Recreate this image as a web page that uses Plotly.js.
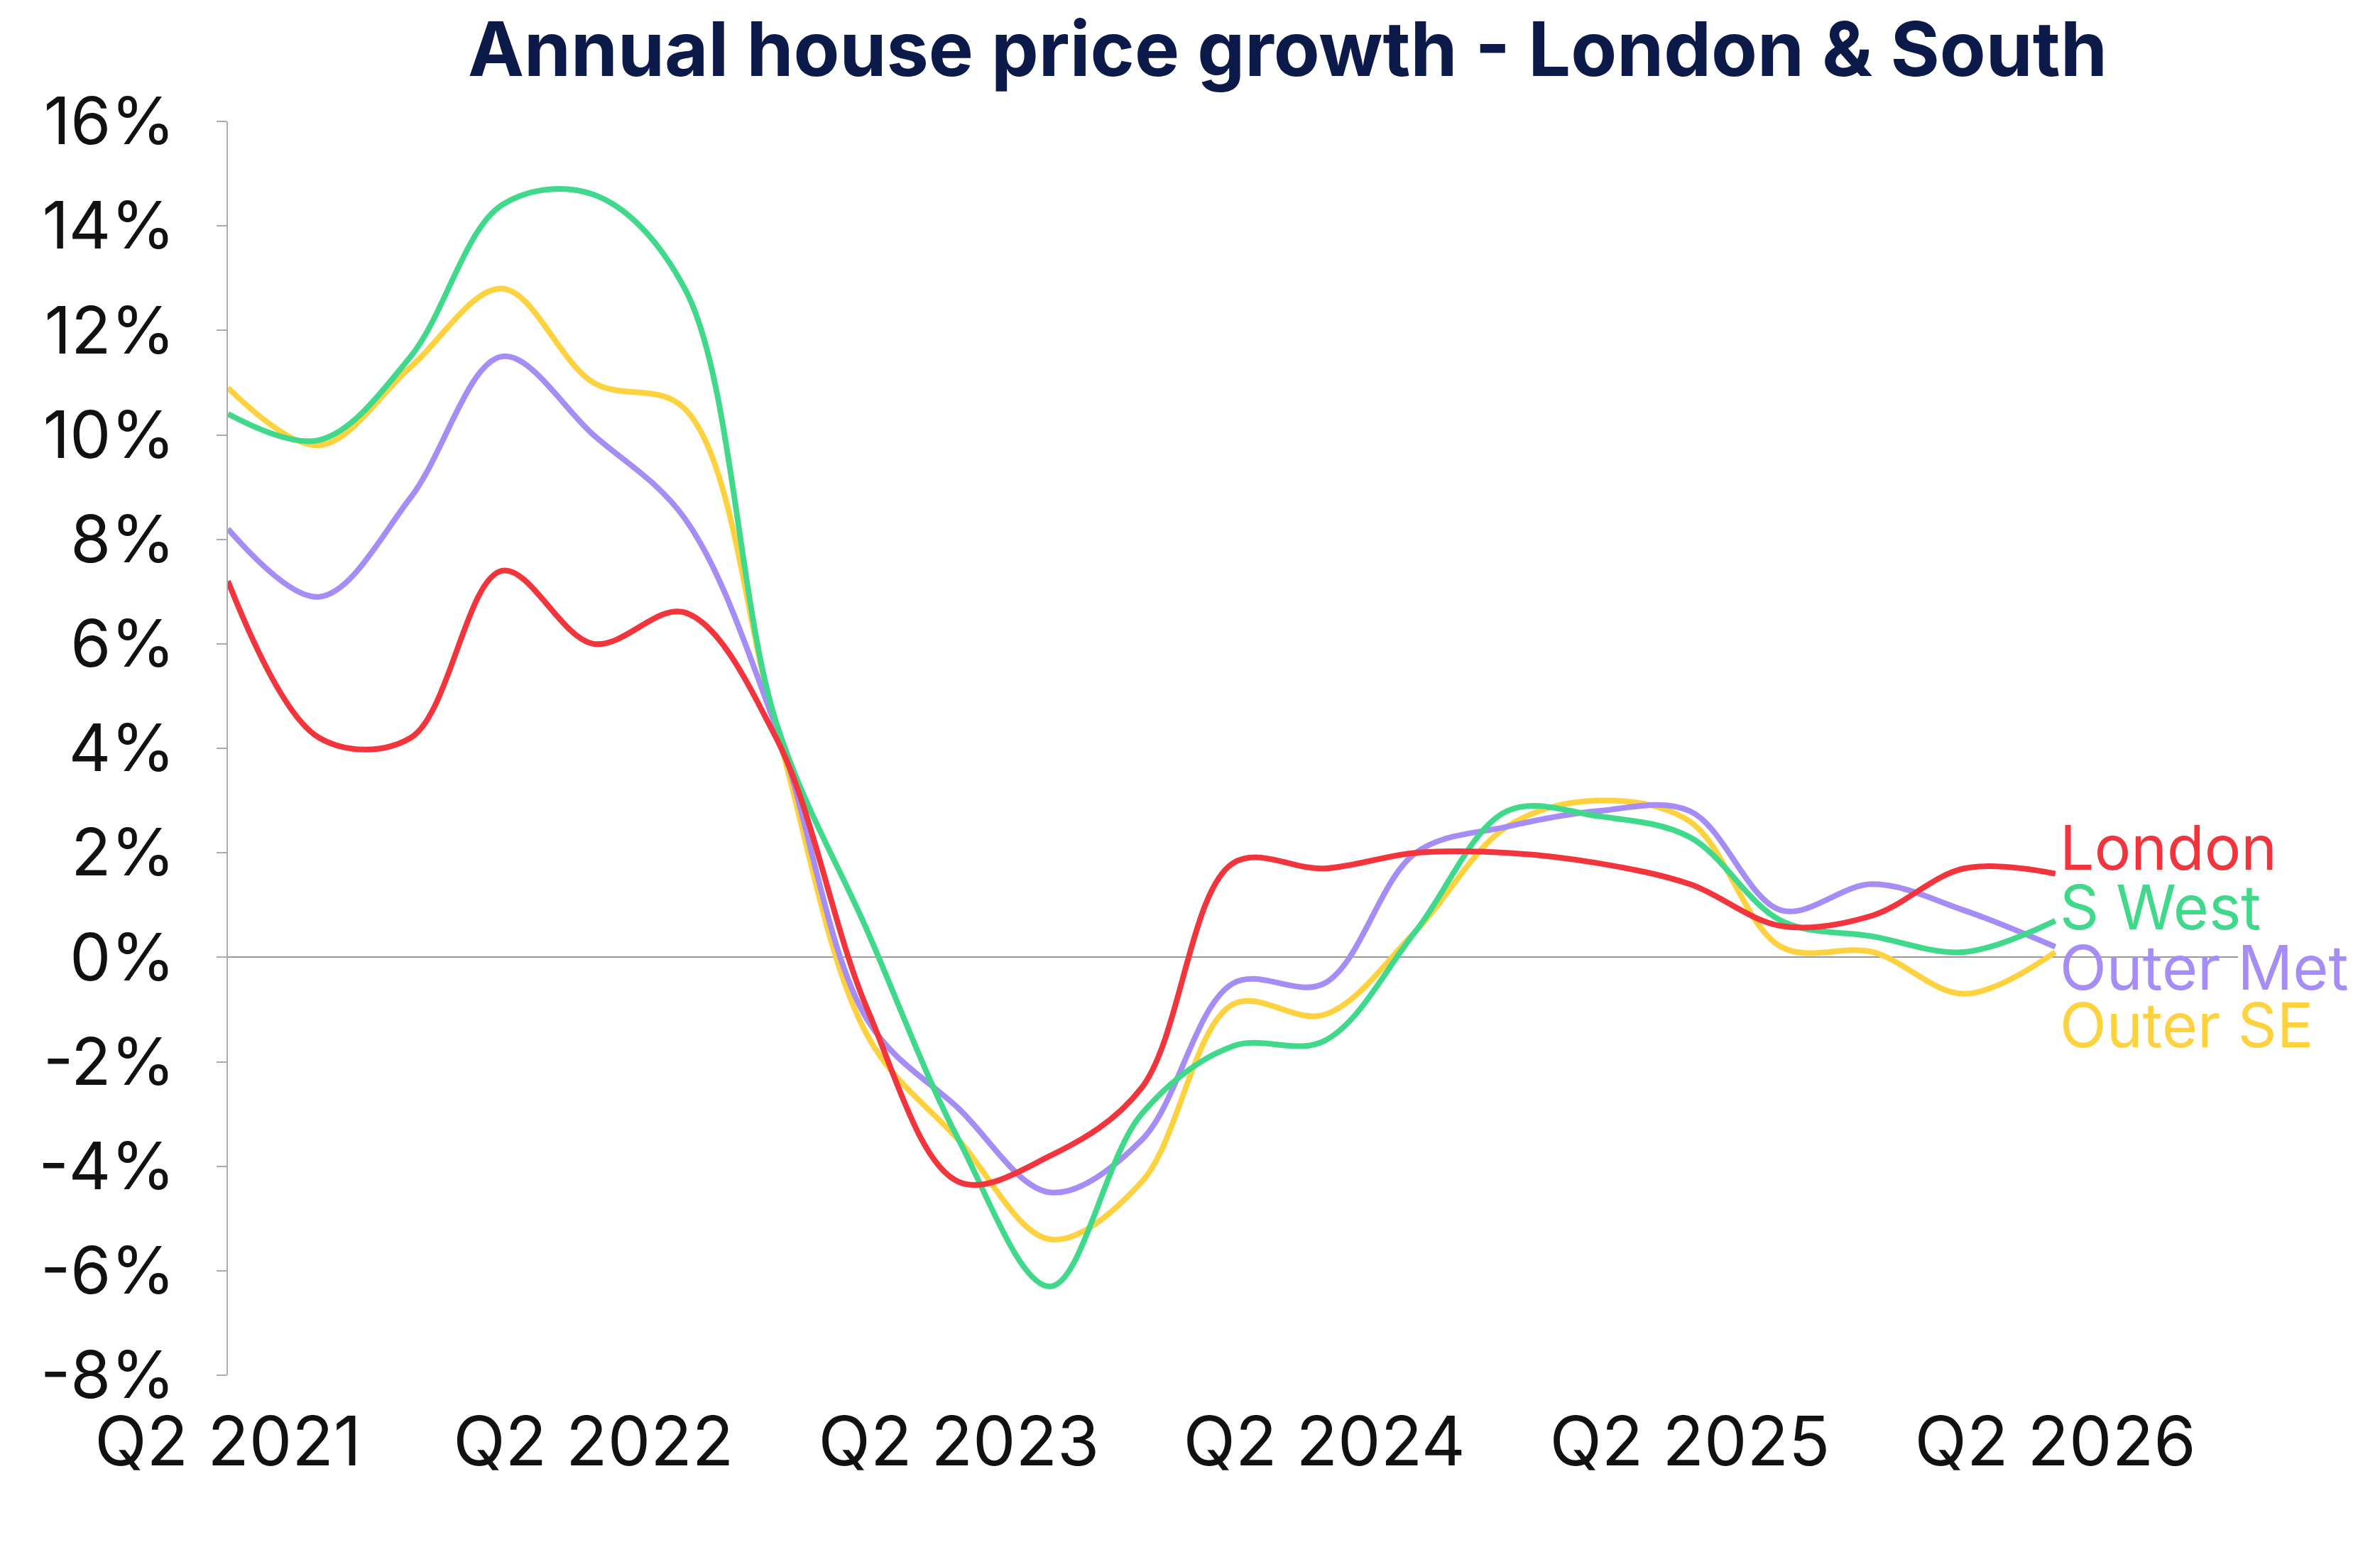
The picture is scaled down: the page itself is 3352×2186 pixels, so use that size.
<!DOCTYPE html><html><head><script src="https://cdn.plot.ly/plotly-3.0.1.min.js"></script>
<style>body{margin:0}#c{width:3352px;height:2186px}</style></head><body><div id="c"></div><script>
const quarters=[0,1,2,3,4,5,6,7,8,9,10,11,12,13,14,15,16,17,18,19,20];
const tickVals=[0,4,8,12,16,20];
const tickText=["Q2 2021","Q2 2022","Q2 2023","Q2 2024","Q2 2025","Q2 2026"];
const yTickVals=[-8,-6,-4,-2,0,2,4,6,8,10,12,14,16];
const yTickText=["-8%","-6%","-4%","-2%","0%","2%","4%","6%","8%","10%","12%","14%","16%"];
const london=[7.2,4.2,4.2,7.4,6.0,6.6,4.2,-1.0,-4.3,-3.8,-2.5,1.8,1.7,2.0,2.0,1.8,1.4,0.6,0.8,1.7,1.6];
const swest=[10.4,9.9,11.5,14.4,14.6,12.8,4.5,0.5,-3.5,-6.3,-3.0,-1.7,-1.6,0.5,2.8,2.7,2.3,0.7,0.4,0.1,0.7];
const outerMet=[8.2,6.9,8.8,11.5,10.0,8.4,4.4,-1.2,-2.9,-4.5,-3.5,-0.5,-0.5,2.0,2.5,2.8,2.8,0.9,1.4,0.9,0.2];
const outerSE=[10.9,9.8,11.3,12.8,11.0,10.5,4.4,-1.5,-3.5,-5.4,-4.3,-0.9,-1.1,0.5,2.5,3.0,2.6,0.2,0.1,-0.7,0.1];
const series=[["Outer SE",outerSE,"#fdd23e",-1.3],["Outer Met",outerMet,"#a68cf5",-0.2],["S West",swest,"#40d98c",0.95],["London",london,"#f2343d",2.1]];
const traces=series.map(s=>({x:quarters,y:s[1],type:"scatter",mode:"lines",line:{shape:"spline",smoothing:1,color:s[2],width:8},name:s[0],cliponaxis:false}));
const ann=series.map(s=>({x:20.03,y:s[3],xref:"x",yref:"y",text:s[0],showarrow:false,xanchor:"left",font:{size:86,color:s[2],family:"Inter, Noto Sans"}}));
Plotly.newPlot("c",traces,{width:3352,height:2186,showlegend:false,paper_bgcolor:"#fff",plot_bgcolor:"#fff",
margin:{l:321,r:200,t:171,b:249},
title:{text:"<b>Annual house price growth - London & South</b>",x:0.541,xref:"container",y:0.985,yanchor:"top",font:{size:106,color:"#0c1a4a",family:"Inter, Noto Sans"}},
xaxis:{range:[0,22],tickvals:tickVals,ticktext:tickText,showgrid:false,zeroline:false,showline:false,ticks:"",ticklabelstandoff:30,tickfont:{size:96,color:"#111",family:"Inter, Noto Sans"}},
yaxis:{range:[-8,16],tickvals:yTickVals,ticktext:yTickText,showgrid:false,zeroline:true,zerolinecolor:"#999",zerolinewidth:2,showline:true,linecolor:"#aaa",linewidth:2,ticks:"outside",ticklen:14,tickcolor:"#aaa",tickwidth:2,ticklabelstandoff:40,tickfont:{size:92,color:"#111",family:"Inter, Noto Sans"}},
annotations:ann},{staticPlot:true});
</script></body></html>
